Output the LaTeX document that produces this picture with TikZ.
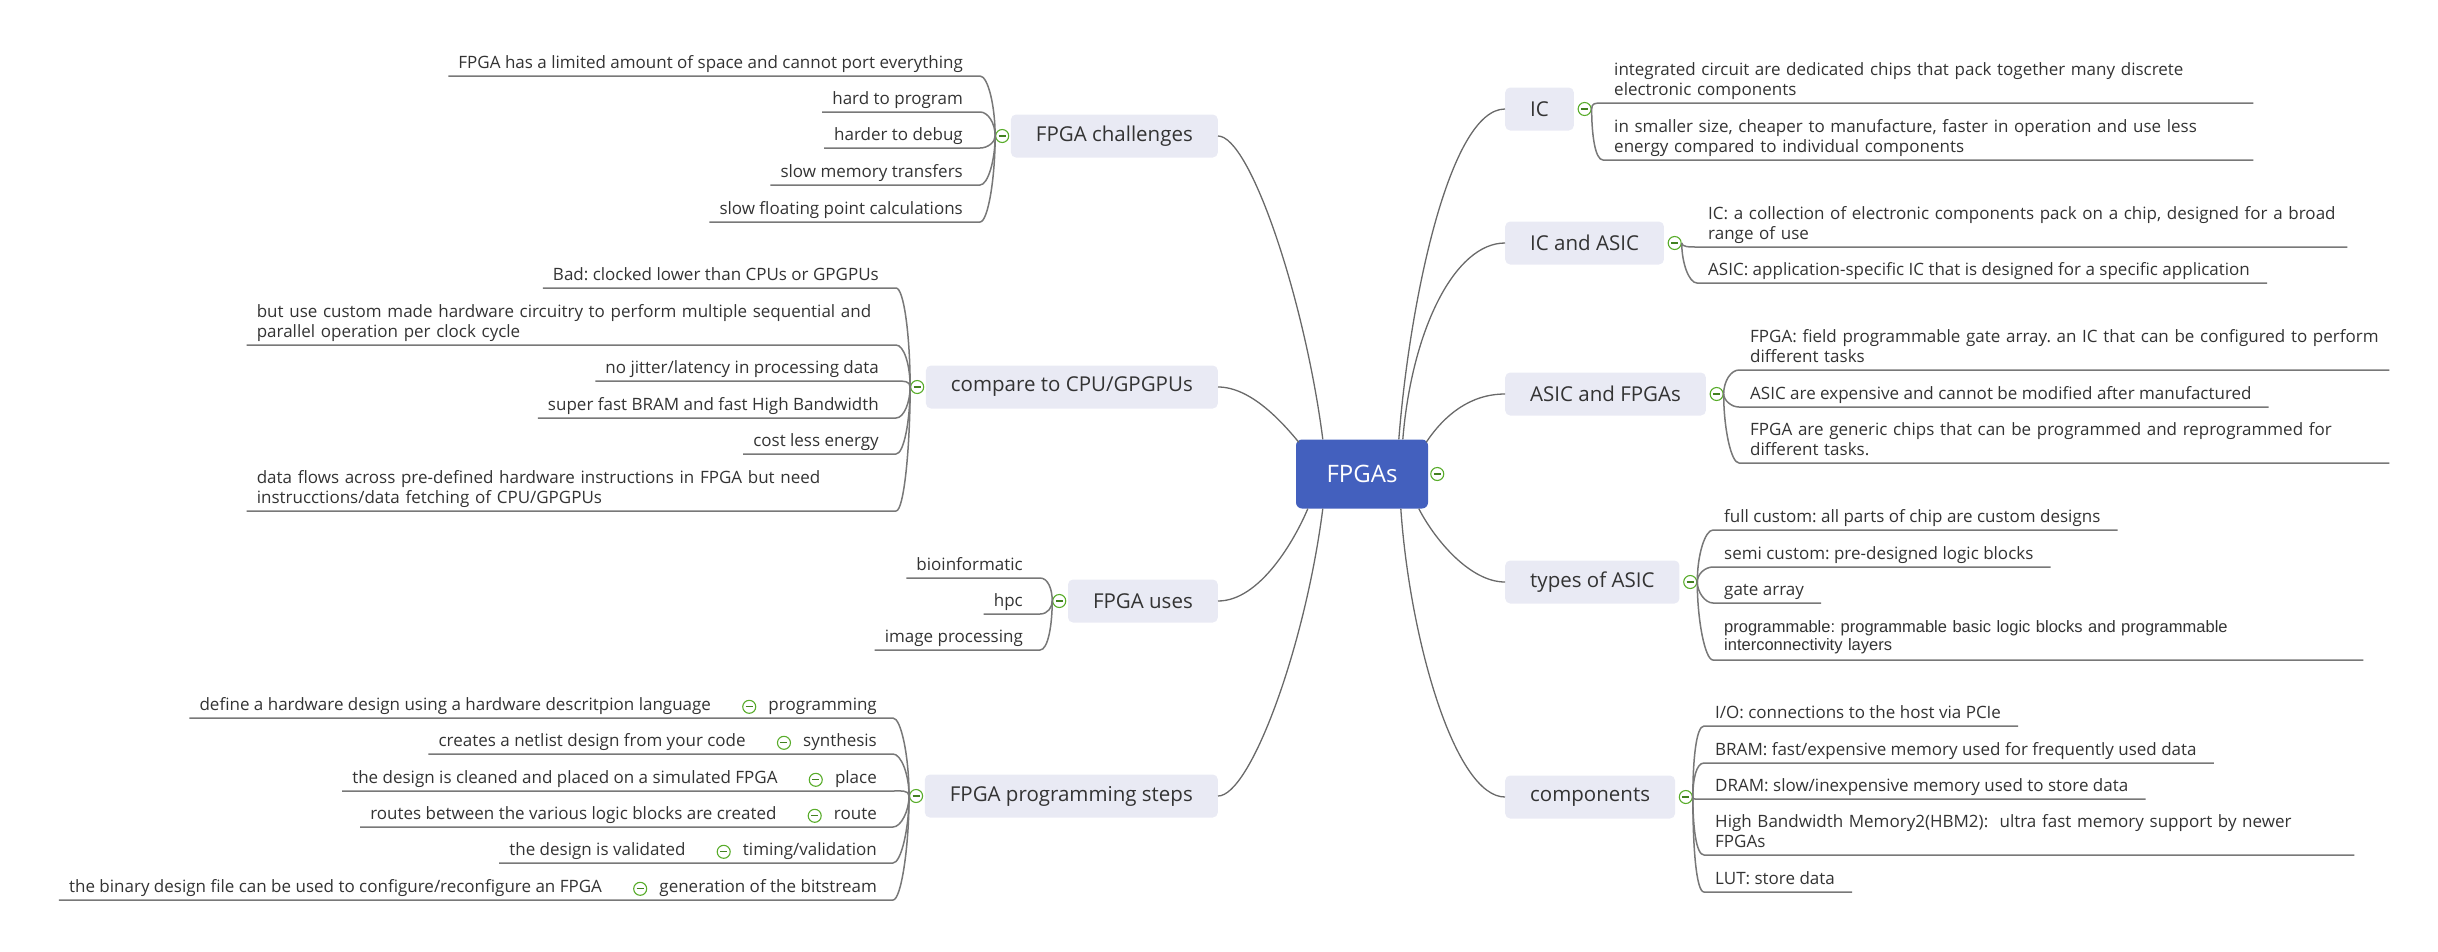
\documentclass[tikz,border=0pt]{standalone}
\usepackage{fontspec}
\setmainfont{Open Sans}
\newfontfamily\arialfont{Liberation Sans}
\usepackage{tikz}
\usetikzlibrary{positioning}
\frenchspacing

\definecolor{rootblue}{RGB}{67,96,190}
\definecolor{topicfill}{RGB}{233,234,244}
\definecolor{linegray}{RGB}{105,105,105}
\definecolor{ulgray}{RGB}{120,120,120}
\definecolor{togreen}{RGB}{88,172,42}
\definecolor{txtgray}{RGB}{51,51,51}

\begin{document}
\begin{tikzpicture}[x=1pt, y=-1pt,
    central/.style={rectangle, rounded corners=6pt, fill=rootblue, text=white, minimum width=132pt, minimum height=69pt, font=\fontsize{24}{28}\selectfont},
    topic/.style={rectangle, rounded corners=5pt, fill=topicfill, text=txtgray, inner xsep=25pt, minimum height=43pt, font=\fontsize{20.5}{24}\selectfont},
    leaf/.style={inner xsep=0pt, inner ysep=1pt, text=txtgray, font=\fontsize{17}{20}\selectfont, execute at end node=\strut},
    leafL/.style={leaf, anchor=south east},
    leafR/.style={leaf, anchor=south west},
    wide/.style={text width=622pt, align=left, execute at begin node={\hyphenpenalty=10000}},
    tog/.style={circle, draw=togreen, line width=1.1pt, fill=white, minimum size=13pt, inner sep=0pt,
        path picture={\draw[togreen!75!black, line width=1.3pt] ([xshift=-3.5pt]path picture bounding box.center) -- ([xshift=3.5pt]path picture bounding box.center);}},
    link/.style={draw=linegray, line width=1.3pt},
    uline/.style={draw=ulgray, line width=1.5pt}
]
\useasboundingbox (0,0) rectangle (2438,951);

% Central topic and main branches
\node[central] (root) at (1362,474) {FPGAs};
\node[tog, right=2pt of root] (troot) {};

\node[topic, anchor=east] (chal)   at (1218,136) {FPGA challenges};
\node[topic, anchor=east] (cmp)    at (1218,387) {compare to CPU/GPGPUs};
\node[topic, anchor=east] (uses)   at (1218,601) {FPGA uses};
\node[topic, anchor=east] (steps)  at (1218,796) {FPGA programming steps};
\node[topic, anchor=west] (ic)     at (1505,109) {IC};
\node[topic, anchor=west] (icasic) at (1505,243) {IC and ASIC};
\node[topic, anchor=west] (asicf)  at (1505,394) {ASIC and FPGAs};
\node[topic, anchor=west] (types)  at (1505,582) {types of ASIC};
\node[topic, anchor=west] (comp)   at (1505,797) {components};

\node[tog, left=1.5pt of chal]   (tchal) {};
\node[tog, left=1.5pt of cmp]    (tcmp) {};
\node[tog, left=1.5pt of uses]   (tuses) {};
\node[tog, left=1.5pt of steps]  (tsteps) {};
\node[tog, right=3.5pt of ic]     (tic) {};
\node[tog, right=3.5pt of icasic] (ticasic) {};
\node[tog, right=3.5pt of asicf]  (tasicf) {};
\node[tog, right=3.5pt of types]  (ttypes) {};
\node[tog, right=3.5pt of comp]   (tcomp) {};

% Links from the centre
\draw[link] (chal.east) .. controls +(32,0) and +(-18,-140) .. ([xshift=27pt]root.north west);
\draw[link] (cmp.east) .. controls +(32,0) and +(-18,-22) .. ([xshift=3pt,yshift=-3pt]root.north west);
\draw[link] (uses.east) .. controls +(42,0) and +(-13,31) .. ([xshift=12pt]root.south west);
\draw[link] (steps.east) .. controls +(32,0) and +(-18,140) .. ([xshift=27pt]root.south west);
\draw[link] (ic.west) .. controls +(-55,0) and +(11,-140) .. ([xshift=103pt]root.north west);
\draw[link] (icasic.west) .. controls +(-50,0) and +(9,-110) .. ([xshift=107pt]root.north west);
\draw[link] (asicf.west) .. controls +(-35,0) and +(18,-27) .. ([xshift=-2pt,yshift=-3pt]root.north east);
\draw[link] (types.west) .. controls +(-35,0) and +(16,31) .. ([xshift=123pt]root.south west);
\draw[link] (comp.west) .. controls +(-50,0) and +(9,131) .. ([xshift=105pt]root.south west);

% FPGA challenges
\node[leafL] (c1) at (963,76)  {FPGA has a limited amount of space and cannot port everything};
\node[leafL] (c2) at (963,112) {hard to program};
\node[leafL] (c3) at (963,148) {harder to debug};
\node[leafL] (c4) at (963,185) {slow memory transfers};
\node[leafL] (c5) at (963,222) {slow floating point calculations};
\draw[uline] ([xshift=-10pt]c1.south west) -- ([xshift=17pt]c1.south east) .. controls +(8,0) and +(0,-30) .. (tchal.west);
\draw[uline] ([xshift=-10pt]c2.south west) -- ([xshift=17pt]c2.south east) .. controls +(8,0) and +(0,-13) .. (tchal.west);
\draw[uline] ([xshift=-10pt]c3.south west) -- ([xshift=17pt]c3.south east) .. controls +(8,0) and +(0,6) .. (tchal.west);
\draw[uline] ([xshift=-10pt]c4.south west) -- ([xshift=17pt]c4.south east) .. controls +(8,0) and +(0,24) .. (tchal.west);
\draw[uline] ([xshift=-10pt]c5.south west) -- ([xshift=17pt]c5.south east) .. controls +(8,0) and +(0,42) .. (tchal.west);

% compare to CPU/GPGPUs
\node[leafL] (p1) at (879,288) {Bad: clocked lower than CPUs or GPGPUs};
\node[leafL, wide] (p2) at (879,345) {but use custom made hardware circuitry to perform multiple sequential and\\parallel operation per clock cycle};
\node[leafL] (p3) at (879,381) {no jitter/latency in processing data};
\node[leafL] (p4) at (879,418) {super fast BRAM and fast High Bandwidth};
\node[leafL] (p5) at (879,454) {cost less energy};
\node[leafL, wide] (p6) at (879,511) {data flows across pre-defined hardware instructions in FPGA but need\\instrucctions/data fetching of CPU/GPGPUs};
\draw[uline] ([xshift=-10pt]p1.south west) -- ([xshift=17pt]p1.south east) .. controls +(8,0) and +(0,-50) .. (tcmp.west);
\draw[uline] ([xshift=-10pt]p2.south west) -- ([xshift=17pt]p2.south east) .. controls +(8,0) and +(0,-22) .. (tcmp.west);
\draw[uline] ([xshift=-10pt]p3.south west) -- ([xshift=17pt]p3.south east) .. controls +(8,0) and +(0,-6) .. (tcmp.west);
\draw[uline] ([xshift=-10pt]p4.south west) -- ([xshift=17pt]p4.south east) .. controls +(8,0) and +(0,15) .. (tcmp.west);
\draw[uline] ([xshift=-10pt]p5.south west) -- ([xshift=17pt]p5.south east) .. controls +(8,0) and +(0,33) .. (tcmp.west);
\draw[uline] ([xshift=-10pt]p6.south west) -- ([xshift=17pt]p6.south east) .. controls +(8,0) and +(0,60) .. (tcmp.west);

% FPGA uses
\node[leafL] (u1) at (1023,578) {bioinformatic};
\node[leafL] (u2) at (1023,614) {hpc};
\node[leafL] (u3) at (1023,650) {image processing};
\draw[uline] ([xshift=-10pt]u1.south west) -- ([xshift=17pt]u1.south east) .. controls +(8,0) and +(0,-12) .. (tuses.west);
\draw[uline] ([xshift=-10pt]u2.south west) -- ([xshift=17pt]u2.south east) .. controls +(8,0) and +(0,6) .. (tuses.west);
\draw[uline] ([xshift=-10pt]u3.south west) -- ([xshift=17pt]u3.south east) .. controls +(8,0) and +(0,24) .. (tuses.west);

% FPGA programming steps
\node[leafL] (s1) at (877,718) {programming};
\node[leafL] (s2) at (877,754) {synthesis};
\node[leafL] (s3) at (877,791) {place};
\node[leafL] (s4) at (877,827) {route};
\node[leafL] (s5) at (877,863) {timing/validation};
\node[leafL] (s6) at (877,900) {generation of the bitstream};
\node[tog, left=12pt of s1] (ts1) {};
\node[tog, left=12pt of s2] (ts2) {};
\node[tog, left=12pt of s3] (ts3) {};
\node[tog, left=12pt of s4] (ts4) {};
\node[tog, left=12pt of s5] (ts5) {};
\node[tog, left=12pt of s6] (ts6) {};
\node[leaf, left=31pt of ts1] (d1) {define a hardware design using a hardware descritpion language};
\node[leaf, left=31pt of ts2] (d2) {creates a netlist design from your code};
\node[leaf, left=31pt of ts3] (d3) {the design is cleaned and placed on a simulated FPGA};
\node[leaf, left=31pt of ts4] (d4) {routes between the various logic blocks are created};
\node[leaf, left=31pt of ts5] (d5) {the design is validated};
\node[leaf, left=31pt of ts6] (d6) {the binary design file can be used to configure/reconfigure an FPGA};
\draw[uline] ([xshift=-10pt]d1.south west) -- ([xshift=16pt]s1.south east) .. controls +(8,0) and +(0,-40) .. (tsteps.west);
\draw[uline] ([xshift=-10pt]d2.south west) -- ([xshift=16pt]s2.south east) .. controls +(8,0) and +(0,-22) .. (tsteps.west);
\draw[uline] ([xshift=-10pt]d3.south west) -- ([xshift=16pt]s3.south east) .. controls +(8,0) and +(0,-6) .. (tsteps.west);
\draw[uline] ([xshift=-10pt]d4.south west) -- ([xshift=16pt]s4.south east) .. controls +(8,0) and +(0,15) .. (tsteps.west);
\draw[uline] ([xshift=-10pt]d5.south west) -- ([xshift=16pt]s5.south east) .. controls +(8,0) and +(0,33) .. (tsteps.west);
\draw[uline] ([xshift=-10pt]d6.south west) -- ([xshift=16pt]s6.south east) .. controls +(8,0) and +(0,52) .. (tsteps.west);

% IC
\node[leafR, wide] (i1) at (1614,103) {integrated circuit are dedicated chips that pack together many discrete\\electronic components};
\node[leafR, wide] (i2) at (1614,160) {in smaller size, cheaper to manufacture, faster in operation and use less\\energy compared to individual components};
\draw[uline] (tic.east) .. controls +(0,-6) and +(-8,0) .. ([xshift=-11pt]i1.south west) -- ([xshift=17pt]i1.south east);
\draw[uline] (tic.east) .. controls +(0,25) and +(-8,0) .. ([xshift=-11pt]i2.south west) -- ([xshift=17pt]i2.south east);

% IC and ASIC
\node[leafR, wide] (a1) at (1708,247) {\mbox{IC: a collection of electronic components pack on a chip, designed for a broad}\\range of use};
\node[leafR] (a2) at (1708,283) {ASIC: application-specific IC that is designed for a specific application};
\draw[uline] (ticasic.east) .. controls +(0,4) and +(-8,0) .. ([xshift=-11pt]a1.south west) -- ([xshift=17pt]a1.south east);
\draw[uline] (ticasic.east) .. controls +(0,20) and +(-8,0) .. ([xshift=-11pt]a2.south west) -- ([xshift=17pt]a2.south east);

% ASIC and FPGAs
\node[leafR, wide] (f1) at (1750,370) {\mbox{FPGA: field programmable gate array. an IC that can be configured to perform}\\different tasks};
\node[leafR] (f2) at (1750,407) {ASIC are expensive and cannot be modified after manufactured};
\node[leafR, wide] (f3) at (1750,463) {FPGA are generic chips that can be programmed and reprogrammed for\\different tasks.};
\draw[uline] (tasicf.east) .. controls +(0,-13) and +(-8,0) .. ([xshift=-11pt]f1.south west) -- ([xshift=17pt]f1.south east);
\draw[uline] (tasicf.east) .. controls +(0,6) and +(-8,0) .. ([xshift=-11pt]f2.south west) -- ([xshift=17pt]f2.south east);
\draw[uline] (tasicf.east) .. controls +(0,34) and +(-8,0) .. ([xshift=-11pt]f3.south west) -- ([xshift=17pt]f3.south east);

% types of ASIC
\node[leafR] (t1) at (1724,530) {full custom: all parts of chip are custom designs};
\node[leafR] (t2) at (1724,567) {semi custom: pre-designed logic blocks};
\node[leafR] (t3) at (1724,603) {gate array};
\node[leafR, wide, inner ysep=4pt, font=\arialfont\fontsize{16.5}{18}\selectfont] (t4) at (1724,660) {programmable: programmable basic logic blocks and programmable\\interconnectivity layers};
\draw[uline] (ttypes.east) .. controls +(0,-27) and +(-8,0) .. ([xshift=-11pt]t1.south west) -- ([xshift=17pt]t1.south east);
\draw[uline] (ttypes.east) .. controls +(0,-8) and +(-8,0) .. ([xshift=-11pt]t2.south west) -- ([xshift=17pt]t2.south east);
\draw[uline] (ttypes.east) .. controls +(0,10) and +(-8,0) .. ([xshift=-11pt]t3.south west) -- ([xshift=17pt]t3.south east);
\draw[uline] (ttypes.east) .. controls +(0,38) and +(-8,0) .. ([xshift=-11pt]t4.south west) -- ([xshift=17pt]t4.south east);

% components
\node[leafR] (m1) at (1715,726) {I/O: connections to the host via PCIe};
\node[leafR] (m2) at (1715,763) {BRAM: fast/expensive memory used for frequently used data};
\node[leafR] (m3) at (1715,799) {DRAM: slow/inexpensive memory used to store data};
\node[leafR, wide] (m4) at (1715,855) {High Bandwidth Memory2(HBM2):\ \ ultra fast memory support by newer\\FPGAs};
\node[leafR] (m5) at (1715,892) {LUT: store data};
\draw[uline] (tcomp.east) .. controls +(0,-36) and +(-8,0) .. ([xshift=-11pt]m1.south west) -- ([xshift=17pt]m1.south east);
\draw[uline] (tcomp.east) .. controls +(0,-17) and +(-8,0) .. ([xshift=-11pt]m2.south west) -- ([xshift=17pt]m2.south east);
\draw[uline] (tcomp.east) .. controls +(0,3) and +(-8,0) .. ([xshift=-11pt]m3.south west) -- ([xshift=17pt]m3.south east);
\draw[uline] (tcomp.east) .. controls +(0,29) and +(-8,0) .. ([xshift=-11pt]m4.south west) -- ([xshift=17pt]m4.south east);
\draw[uline] (tcomp.east) .. controls +(0,48) and +(-8,0) .. ([xshift=-11pt]m5.south west) -- ([xshift=17pt]m5.south east);

\end{tikzpicture}
\end{document}
